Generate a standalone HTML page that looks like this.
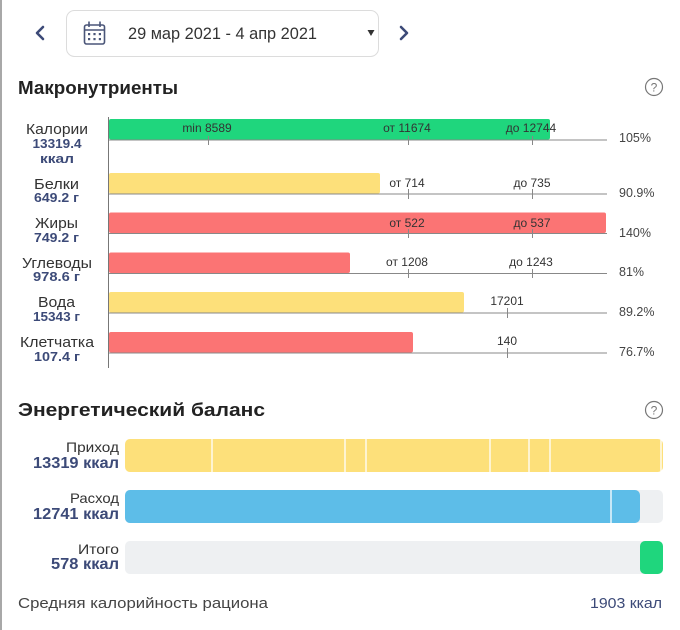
<!DOCTYPE html>
<html><head><meta charset="utf-8">
<style>
html,body{margin:0;padding:0;background:#fff;}
body{width:680px;height:630px;overflow:hidden;}
svg{display:block;}
text{font-family:"Liberation Sans","Noto Sans CJK SC",sans-serif;}
</style></head>
<body>
<svg width="680" height="630" viewBox="0 0 680 630" xmlns="http://www.w3.org/2000/svg">
<rect x="0" y="0" width="680" height="630" fill="#fff"/>
<rect x="0" y="0" width="2" height="630" fill="#a8a8a8"/>

<!-- Header date picker -->
<polyline points="43,27 37,33 43,39" fill="none" stroke="#3c4a78" stroke-width="2.6" stroke-linecap="round" stroke-linejoin="round"/>
<polyline points="401,27 407,33 401,39" fill="none" stroke="#3c4a78" stroke-width="2.6" stroke-linecap="round" stroke-linejoin="round"/>
<rect x="66.5" y="10.5" width="312" height="46" rx="8" fill="#fff" stroke="#dcdcdc"/>
<g stroke="#4a5578" fill="none" stroke-width="1.6">
<rect x="84.5" y="25" width="20" height="19" rx="2"/>
<line x1="84.5" y1="30" x2="104.5" y2="30"/>
<line x1="89" y1="21.5" x2="89" y2="27"/>
<line x1="100" y1="21.5" x2="100" y2="27"/>
</g>
<g fill="#4a5578">
<rect x="88" y="33" width="2.2" height="2.2"/><rect x="93.4" y="33" width="2.2" height="2.2"/><rect x="98.8" y="33" width="2.2" height="2.2"/>
<rect x="88" y="38" width="2.2" height="2.2"/><rect x="93.4" y="38" width="2.2" height="2.2"/><rect x="98.8" y="38" width="2.2" height="2.2"/>
</g>
<text x="128" y="39" font-size="17" fill="#333" textLength="189" lengthAdjust="spacingAndGlyphs">29 мар 2021 - 4 апр 2021</text>
<polygon points="367.5,30 374.5,30 371,36" fill="#333"/>

<!-- Macronutrients title -->
<text x="18" y="94" font-size="18" font-weight="bold" fill="#222" textLength="160" lengthAdjust="spacingAndGlyphs">Макронутриенты</text>
<circle cx="654" cy="87" r="8.5" fill="none" stroke="#777" stroke-width="1.2"/>
<text x="654" y="91.5" font-size="12" fill="#777" text-anchor="middle">?</text>

<!-- Axis -->
<line x1="108.5" y1="117" x2="108.5" y2="368" stroke="#777" stroke-width="1"/>

<!-- Bars -->
<rect x="109" y="119" width="441" height="20.5" rx="2" fill="#1fd67d"/>
<rect x="109" y="173" width="271" height="20.5" rx="2" fill="#fde07a"/>
<rect x="109" y="212.5" width="497" height="20.5" rx="2" fill="#fb7474"/>
<rect x="109" y="252.5" width="241" height="20.5" rx="2" fill="#fb7474"/>
<rect x="109" y="292" width="355" height="20.5" rx="2" fill="#fde07a"/>
<rect x="109" y="332" width="304" height="20.5" rx="2" fill="#fb7474"/>

<!-- Baselines -->
<g stroke="#888" stroke-width="1">
<line x1="109" y1="140" x2="607" y2="140"/>
<line x1="109" y1="194" x2="607" y2="194"/>
<line x1="109" y1="233.5" x2="607" y2="233.5"/>
<line x1="109" y1="273.5" x2="607" y2="273.5"/>
<line x1="109" y1="313" x2="607" y2="313"/>
<line x1="109" y1="353" x2="607" y2="353"/>
<!-- ticks -->
<line x1="208.5" y1="136" x2="208.5" y2="145"/>
<line x1="408.5" y1="136" x2="408.5" y2="145"/>
<line x1="532.5" y1="136" x2="532.5" y2="145"/>
<line x1="408.5" y1="189" x2="408.5" y2="199"/>
<line x1="532.5" y1="189" x2="532.5" y2="199"/>
<line x1="408.5" y1="229" x2="408.5" y2="238"/>
<line x1="532.5" y1="229" x2="532.5" y2="238"/>
<line x1="408.5" y1="269" x2="408.5" y2="278"/>
<line x1="532.5" y1="269" x2="532.5" y2="278"/>
<line x1="507.5" y1="308" x2="507.5" y2="318"/>
<line x1="507.5" y1="348" x2="507.5" y2="358"/>
</g>

<!-- Tick labels -->
<g font-size="12" fill="#333" text-anchor="middle">
<text x="207" y="132">min 8589</text>
<text x="407" y="132">от 11674</text>
<text x="531" y="132">до 12744</text>
<text x="407" y="187">от 714</text>
<text x="532" y="187">до 735</text>
<text x="407" y="227">от 522</text>
<text x="532" y="227">до 537</text>
<text x="407" y="266">от 1208</text>
<text x="531" y="266">до 1243</text>
<text x="507" y="305">17201</text>
<text x="507" y="345">140</text>
</g>

<!-- Percent labels -->
<g font-size="12.5" fill="#444">
<text x="619" y="142">105%</text>
<text x="619" y="197">90.9%</text>
<text x="619" y="237">140%</text>
<text x="619" y="276">81%</text>
<text x="619" y="316">89.2%</text>
<text x="619" y="356">76.7%</text>
</g>

<!-- Left labels -->
<g text-anchor="middle">
<text x="57" y="134" font-size="15" fill="#333" textLength="62" lengthAdjust="spacingAndGlyphs">Калории</text>
<text x="57" y="148" font-size="13" font-weight="bold" fill="#3c4a78" textLength="49" lengthAdjust="spacingAndGlyphs">13319.4</text>
<text x="57" y="163" font-size="13" font-weight="bold" fill="#3c4a78" textLength="34" lengthAdjust="spacingAndGlyphs">ккал</text>

<text x="56.5" y="189" font-size="15" fill="#333" textLength="45" lengthAdjust="spacingAndGlyphs">Белки</text>
<text x="56.5" y="202" font-size="13" font-weight="bold" fill="#3c4a78" textLength="45" lengthAdjust="spacingAndGlyphs">649.2 г</text>

<text x="56.5" y="228" font-size="15" fill="#333" textLength="43" lengthAdjust="spacingAndGlyphs">Жиры</text>
<text x="56.5" y="242" font-size="13" font-weight="bold" fill="#3c4a78" textLength="45" lengthAdjust="spacingAndGlyphs">749.2 г</text>

<text x="57" y="268" font-size="15" fill="#333" textLength="70" lengthAdjust="spacingAndGlyphs">Углеводы</text>
<text x="56.5" y="281" font-size="13" font-weight="bold" fill="#3c4a78" textLength="47" lengthAdjust="spacingAndGlyphs">978.6 г</text>

<text x="56.5" y="307" font-size="15" fill="#333" textLength="37" lengthAdjust="spacingAndGlyphs">Вода</text>
<text x="56.5" y="321" font-size="13" font-weight="bold" fill="#3c4a78" textLength="47" lengthAdjust="spacingAndGlyphs">15343 г</text>

<text x="57" y="347" font-size="15" fill="#333" textLength="74" lengthAdjust="spacingAndGlyphs">Клетчатка</text>
<text x="57" y="361" font-size="13" font-weight="bold" fill="#3c4a78" textLength="46" lengthAdjust="spacingAndGlyphs">107.4 г</text>
</g>

<!-- Energy balance -->
<text x="18" y="416" font-size="18" font-weight="bold" fill="#222" textLength="247" lengthAdjust="spacingAndGlyphs">Энергетический баланс</text>
<circle cx="654" cy="410" r="8.5" fill="none" stroke="#777" stroke-width="1.2"/>
<text x="654" y="414.5" font-size="12" fill="#777" text-anchor="middle">?</text>

<!-- Приход -->
<rect x="125" y="439" width="538" height="33" rx="5" fill="#fde07a"/>
<g stroke="#fff" stroke-width="1.3">
<line x1="212" y1="439" x2="212" y2="472"/>
<line x1="345" y1="439" x2="345" y2="472"/>
<line x1="366" y1="439" x2="366" y2="472"/>
<line x1="490" y1="439" x2="490" y2="472"/>
<line x1="529" y1="439" x2="529" y2="472"/>
<line x1="550" y1="439" x2="550" y2="472"/>
<line x1="661" y1="439" x2="661" y2="472"/>
</g>

<!-- Расход -->
<rect x="125" y="490" width="538" height="33" rx="5" fill="#eef0f2"/>
<rect x="125" y="490" width="515" height="33" rx="5" fill="#5dbde8"/>
<line x1="611" y1="490" x2="611" y2="523" stroke="#fff" stroke-width="1.3"/>

<!-- Итого -->
<rect x="125" y="541" width="538" height="33" rx="5" fill="#eef0f2"/>
<rect x="640" y="541" width="23" height="33" rx="5" fill="#1fd67d"/>

<g text-anchor="end">
<text x="119" y="452" font-size="14" fill="#333" textLength="53" lengthAdjust="spacingAndGlyphs">Приход</text>
<text x="119" y="468" font-size="16" font-weight="bold" fill="#3c4a78" textLength="86" lengthAdjust="spacingAndGlyphs">13319 ккал</text>
<text x="119" y="503" font-size="14" fill="#333" textLength="49" lengthAdjust="spacingAndGlyphs">Расход</text>
<text x="119" y="519" font-size="16" font-weight="bold" fill="#3c4a78" textLength="86" lengthAdjust="spacingAndGlyphs">12741 ккал</text>
<text x="119" y="554" font-size="14" fill="#333" textLength="41" lengthAdjust="spacingAndGlyphs">Итого</text>
<text x="119" y="569" font-size="16" font-weight="bold" fill="#3c4a78" textLength="68" lengthAdjust="spacingAndGlyphs">578 ккал</text>
</g>

<text x="18" y="608" font-size="15" fill="#444" textLength="250" lengthAdjust="spacingAndGlyphs">Средняя калорийность рациона</text>
<text x="662" y="608" font-size="15" fill="#3c4a78" text-anchor="end" textLength="72" lengthAdjust="spacingAndGlyphs">1903 ккал</text>
</svg>
</body></html>
